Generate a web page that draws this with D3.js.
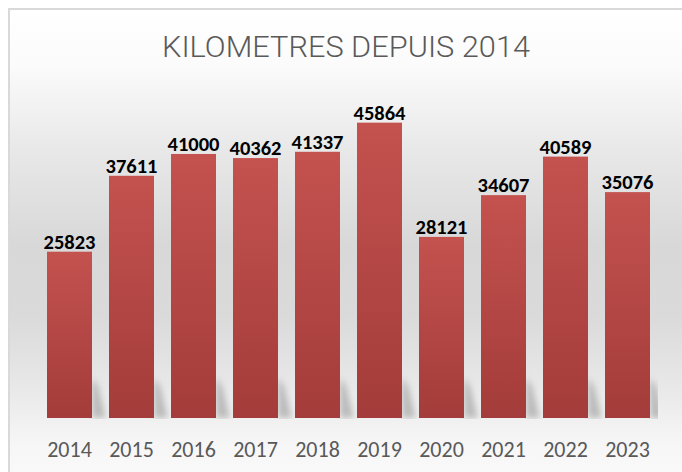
<!DOCTYPE html>
<html><head><meta charset="utf-8">
<script src="https://cdn.jsdelivr.net/npm/d3@7"></script>
<style>html,body{margin:0;padding:0;background:#fff;}svg{display:block;}</style>
</head><body>
<script>
const title = "KILOMETRES DEPUIS 2014";
const years = ["2014","2015","2016","2017","2018","2019","2020","2021","2022","2023"];
const km = [25823, 37611, 41000, 40362, 41337, 45864, 28121, 34607, 40589, 35076];

const W = 682, H = 472;
const svg = d3.select("body").append("svg").attr("width", W).attr("height", H);
const defs = svg.append("defs");

const bg = defs.append("linearGradient").attr("id","bg").attr("x1",0).attr("y1",0).attr("x2",0).attr("y2",1);
[[0,"#ffffff"],[0.12,"#fbfbfb"],[0.3,"#e8e8e8"],[0.5,"#d8d8d8"],[0.65,"#dadada"],[0.8,"#e8e8e8"],[0.92,"#f6f6f6"],[1,"#fafafa"]]
  .forEach(([o,c]) => bg.append("stop").attr("offset",o).attr("stop-color",c));

const barG = defs.append("linearGradient").attr("id","barg").attr("x1",0).attr("y1",0).attr("x2",0).attr("y2",1);
[[0,"#c4524f"],[1,"#a33c3a"]].forEach(([o,c]) => barG.append("stop").attr("offset",o).attr("stop-color",c));

defs.append("filter").attr("id","blur").attr("x","-50%").attr("y","-50%").attr("width","200%").attr("height","200%")
  .append("feGaussianBlur").attr("stdDeviation", 3);

const plot = {left: 40, right: 658, top: 96, bottom: 418};
defs.append("clipPath").attr("id","pclip").append("rect")
  .attr("x", plot.left).attr("y", plot.top).attr("width", plot.right - plot.left).attr("height", plot.bottom - plot.top + 1);

// chart area background + border
svg.append("rect").attr("x", 9).attr("y", 9).attr("width", W).attr("height", H)
  .attr("fill", "url(#bg)").attr("stroke", "#d9d9d9").attr("stroke-width", 2);

const step = 62, bw = 45, gap = step - bw;
const xs = d3.scaleBand().domain(years)
  .range([47 - gap/2, 47 - gap/2 + step*years.length])
  .paddingInner(gap/step).paddingOuter(gap/step/2);

const y = d3.scaleLinear().domain([0, 50000]).range([418, 96]);

// shadows
const sh = svg.append("g").attr("clip-path","url(#pclip)");
sh.selectAll("path").data(years).join("path")
  .attr("d", d => {
    const r = xs(d) + xs.bandwidth();
    const b = y(0);
    return `M${r},${b-40} L${r+6},${b-32} L${r+14},${b} L${r},${b} Z`;
  })
  .attr("fill", "#9a9a9a").attr("opacity", 0.6).attr("filter","url(#blur)");

// bars
svg.append("g").selectAll("rect").data(years).join("rect")
  .attr("x", d => xs(d)).attr("width", xs.bandwidth())
  .attr("y", (d,i) => y(km[i])).attr("height", (d,i) => y(0) - y(km[i]))
  .attr("fill", "url(#barg)");

// value labels
svg.append("g").selectAll("text").data(years).join("text")
  .attr("x", d => xs(d) + xs.bandwidth()/2)
  .attr("y", (d,i) => y(km[i]) - 3)
  .attr("text-anchor","middle")
  .attr("font-family","Carlito, 'Liberation Sans', Arial, sans-serif")
  .attr("font-weight","bold").attr("font-size", 20.5).attr("fill","#000")
  .text((d,i) => km[i]);

// x axis labels
svg.append("g").selectAll("text").data(years).join("text")
  .attr("x", d => xs(d) + xs.bandwidth()/2)
  .attr("y", 457)
  .attr("text-anchor","middle")
  .attr("font-family","Carlito, 'Liberation Sans', Arial, sans-serif")
  .attr("font-size", 22).attr("fill","#595959")
  .text(d => d);

// title
svg.append("text").attr("x", 346).attr("y", 57).attr("text-anchor","middle")
  .attr("font-family","Roboto, 'Liberation Sans Narrow', sans-serif").attr("font-weight", 300)
  .attr("font-size", 29).attr("fill","#595959")
  .attr("textLength", 368).attr("lengthAdjust","spacingAndGlyphs")
  .text(title);
</script>
</body></html>
